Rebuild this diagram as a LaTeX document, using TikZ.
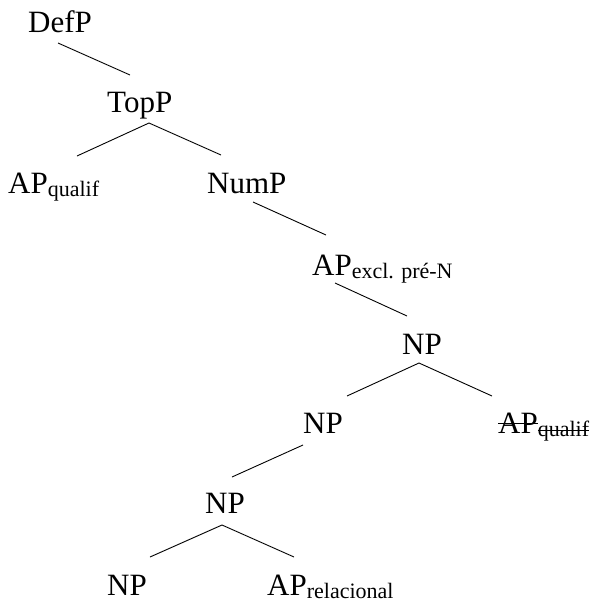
\documentclass[tikz,border=0pt]{standalone}
\usepackage{fontspec}
\setmainfont{Liberation Serif}
\newcommand\subl[1]{\raisebox{-3pt}{\fontsize{22}{24}\selectfont #1}}
\newsavebox\strkbox
\newcommand\strk[2]{\sbox\strkbox{#1}\rlap{\rule[#2]{\wd\strkbox}{0.9pt}}\usebox\strkbox}
\begin{document}
\begin{tikzpicture}[x=1pt,y=-1pt,
  lab/.style={inner sep=0pt, anchor=base west, font=\fontsize{31}{36}\selectfont},
  edge/.style={line width=0.9pt}]
\useasboundingbox (0,0) rectangle (595,600);
\node[lab] (defp) at (28,32) {DefP};
\node[lab] (topp) at (107,112) {TopP};
\node[lab] (apq) at (8,193) {AP\subl{qualif}};
\node[lab] (nump) at (207,193) {NumP};
\node[lab] (apx) at (312,275) {AP\subl{excl. pré-N}};
\node[lab] (np1) at (402,354) {NP};
\node[lab] (np2) at (303,433) {NP};
\node[lab] (apq2) at (498,433) {\strk{AP}{9pt}\subl{\strk{qualif}{5.5pt}}};
\node[lab] (np3) at (205,513) {NP};
\node[lab] (np4) at (107,595) {NP};
\node[lab] (aprel) at (267,595) {AP\subl{relacional}};
% connector ends
\coordinate (defp-b) at (58,43);
\coordinate (topp-t) at (130,75);
\coordinate (topp-b) at (149,123);
\coordinate (apq-t) at (77,156);
\coordinate (nump-t) at (221,155);
\coordinate (nump-b) at (253,202);
\coordinate (apx-t) at (326,235);
\coordinate (apx-b) at (335,283);
\coordinate (np1-t) at (407,316);
\coordinate (np1-b) at (419,363);
\coordinate (np2-t) at (347,396);
\coordinate (apq2-t) at (492,396);
\coordinate (np2-b) at (303,445);
\coordinate (np3-t) at (232,477);
\coordinate (np3-b) at (222,525);
\coordinate (np4-t) at (150,557);
\coordinate (aprel-t) at (294,557);
\draw[edge] (defp-b) -- (topp-t);
\draw[edge] (topp-b) -- (apq-t);
\draw[edge] (topp-b) -- (nump-t);
\draw[edge] (nump-b) -- (apx-t);
\draw[edge] (apx-b) -- (np1-t);
\draw[edge] (np1-b) -- (np2-t);
\draw[edge] (np1-b) -- (apq2-t);
\draw[edge] (np2-b) -- (np3-t);
\draw[edge] (np3-b) -- (np4-t);
\draw[edge] (np3-b) -- (aprel-t);
\end{tikzpicture}
\end{document}
